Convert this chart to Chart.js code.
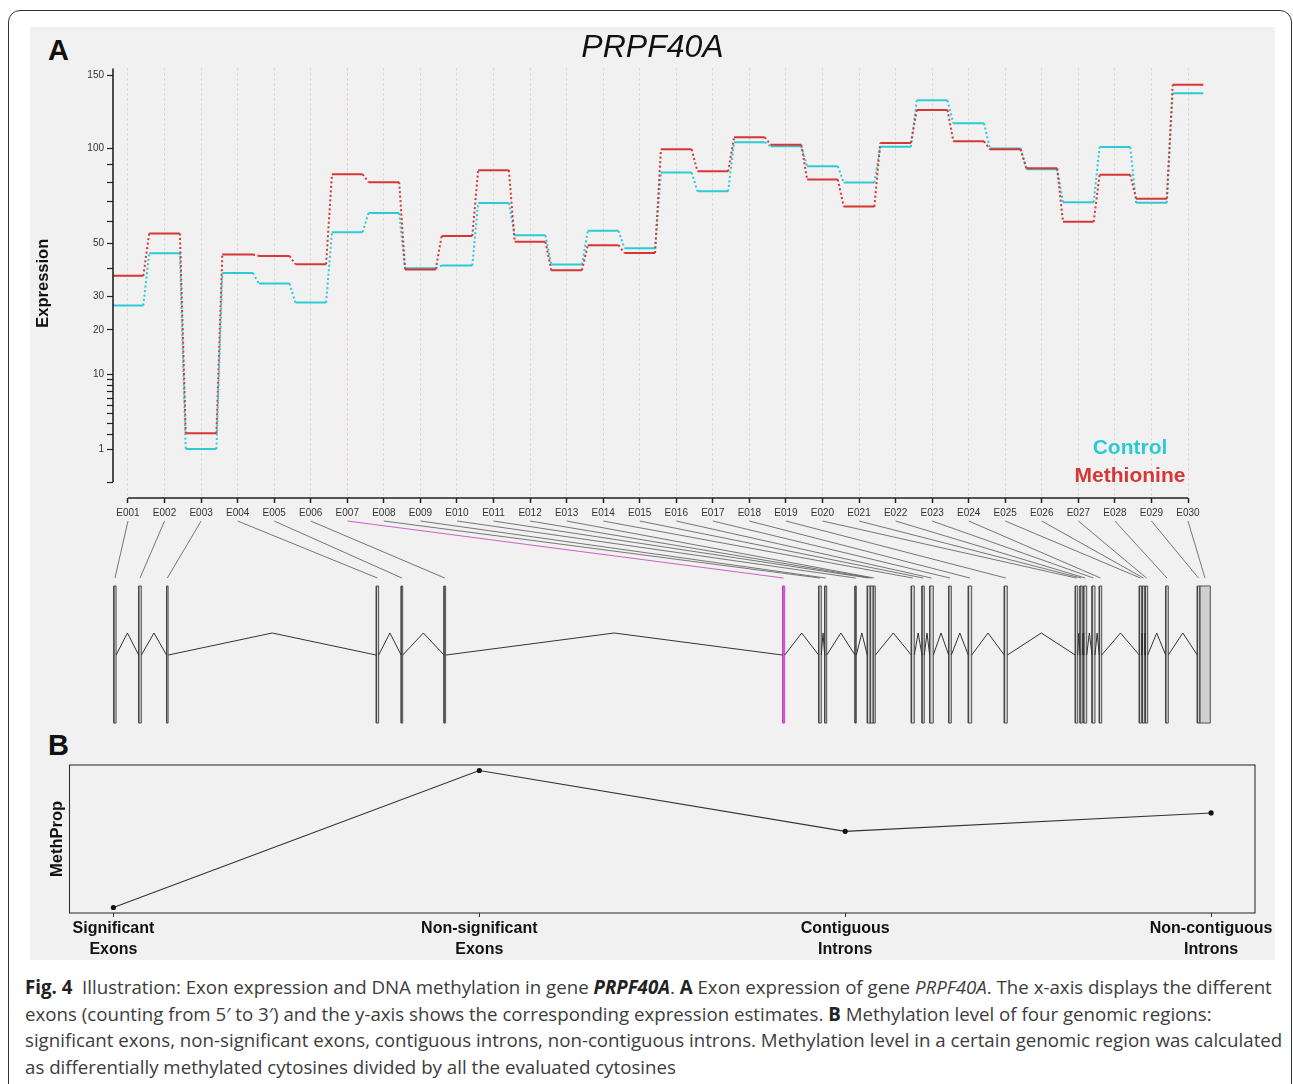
<!DOCTYPE html>
<html>
<head>
<meta charset="utf-8">
<script src="https://cdn.jsdelivr.net/npm/chart.js@4.4.1/dist/chart.umd.min.js"></script>
<style>
  html, body { margin: 0; padding: 0; background: #fff; }
  body { width: 1293px; height: 1084px; position: relative; overflow: hidden; font-family: 'Liberation Sans', Arial, sans-serif; }
  #frame { position: absolute; left: 8px; top: 10px; width: 1284px; height: 1100px; border: 1.5px solid #333; border-radius: 12px; box-sizing: border-box; }
  #panel { position: absolute; left: 30px; top: 27px; width: 1245px; height: 933px; background: #f1f1f1; }
  .tag { position: absolute; font: bold 29px/29px 'Liberation Sans', Arial, sans-serif; color: #111; }
  .box { position: absolute; }
  .cap { position: absolute; left: 25px; white-space: nowrap; font-family: 'Open Sans', sans-serif; font-size: 18.7px; letter-spacing: 0; color: #3c3c3c; line-height: 20px; }
  .cap b { color: #222; }
</style>
</head>
<body>
<div id="frame"></div>
<div id="panel"></div>
<div class="tag" style="left:48px; top:36px;">A</div>
<div class="tag" style="left:48px; top:731px;">B</div>
<div class="box" style="left:30px; top:27px;"><canvas id="exprChart" width="1245" height="500"></canvas></div>
<div class="box" style="left:30px; top:518px;"><canvas id="geneChart" width="1245" height="210"></canvas></div>
<div class="box" style="left:30px; top:755px;"><canvas id="methChart" width="1263" height="205"></canvas></div>

<div class="cap" style="top:977px;"><b>Fig. 4</b>&nbsp; Illustration: Exon expression and DNA methylation in gene <b><i>PRPF40A</i></b>. <b>A</b> Exon expression of gene <i>PRPF40A</i>. The x-axis displays the different</div>
<div class="cap" style="top:1004px;">exons (counting from 5′ to 3′) and the y-axis shows the corresponding expression estimates. <b>B</b> Methylation level of four genomic regions:</div>
<div class="cap" style="top:1030px;">significant exons, non-significant exons, contiguous introns, non-contiguous introns. Methylation level in a certain genomic region was calculated</div>
<div class="cap" style="top:1057px;">as differentially methylated cytosines divided by all the evaluated cytosines</div>

<script>
// exon bins of PRPF40A
const exonLabels = ['E001', 'E002', 'E003', 'E004', 'E005', 'E006', 'E007', 'E008', 'E009', 'E010',
    'E011', 'E012', 'E013', 'E014', 'E015', 'E016', 'E017', 'E018', 'E019', 'E020',
    'E021', 'E022', 'E023', 'E024', 'E025', 'E026', 'E027', 'E028', 'E029', 'E030'];

// expression estimates per exon bin
const controlExpr = [27.1, 46.0, 1.0, 38.2, 34.4, 28.0, 55.1, 64.1, 40.0, 41.1,
    69.1, 53.7, 41.5, 55.7, 48.1, 85.5, 75.2, 103.6, 101.1, 89.1,
    79.9, 100.8, 131.7, 115.9, 99.8, 87.4, 69.5, 100.6, 69.2, 136.8];
const methionineExpr = [37.2, 54.5, 2.1, 45.5, 44.9, 41.6, 84.5, 80.1, 39.6, 53.4,
    86.8, 50.8, 39.3, 49.4, 46.1, 99.2, 86.2, 106.7, 102.1, 81.6,
    67.3, 103.2, 124.9, 104.2, 99.2, 87.9, 59.9, 84.2, 71.3, 143.0];

const yTickValues = [1, 10, 20, 30, 50, 100, 150];
const yMinorTicks = [0.01, 2, 3, 4, 5, 6, 7, 8, 9, 40, 60, 70, 80, 90];

// exon bins along the gene (relative genomic position)
const exonStart = [0.0, 24.9, 52.8, 262.5, 287.4, 330.2, 668.9, 704.9, 710.9, 741.2,
    753.5, 756.2, 759.2, 797.5, 808.2, 815.9, 834.9, 854.5, 890.5, 961.5,
    966.2, 969.9, 978.2, 985.5, 1025.5, 1028.5, 1031.5, 1051.9, 1083.5, 1085.9];
const exonEnd = [2.3, 27.5, 54.3, 264.8, 288.9, 331.8, 670.9, 707.5, 712.9, 742.5,
    756.2, 759.2, 761.5, 800.5, 810.5, 819.5, 837.5, 857.9, 893.5, 963.9,
    968.5, 972.9, 981.2, 987.9, 1027.9, 1030.9, 1033.9, 1054.5, 1085.9, 1096.5];
const highlightExon = 'E007';

// panel B
const methRegions = [['Significant', 'Exons'], ['Non-significant', 'Exons'], ['Contiguous', 'Introns'], ['Non-contiguous', 'Introns']];
const methProp = [0.010, 0.060, 0.0378, 0.0445];

Chart.defaults.font.family = "'Liberation Sans', Arial, sans-serif";

const EXP = 0.48;
const tf = v => Math.pow(v, EXP);
const HALF = 0.42;
const CYAN = '#2ccbd4';
const RED = '#d63636';
const MAGENTA = '#c23bc2';
const IDX_MIN = 0.59, IDX_MAX = 32.38;

function stepPoints(values) {
    const pts = [];
    values.forEach((v, i) => {
        pts.push({ x: i + 1 - HALF, y: tf(v) });
        pts.push({ x: i + 1 + HALF, y: tf(v) });
    });
    return pts;
}

const yTicks = yMinorTicks.map(v => ({ v, major: false }))
    .concat(yTickValues.map(v => ({ v, major: true })))
    .sort((a, b) => a.v - b.v);

const dotted = ctx => ctx.p0DataIndex % 2 ? [2, 2.5] : undefined;

const rAxes = {
    id: 'rAxes',
    afterDraw(chart) {
        const { ctx, chartArea, scales: { x, y } } = chart;
        const xEnd = x.getPixelForValue(exonLabels.length);
        ctx.save();
        ctx.strokeStyle = '#222';
        ctx.lineWidth = 1.6;
        ctx.beginPath();
        ctx.moveTo(chartArea.left, chartArea.top);
        ctx.lineTo(chartArea.left, y.getPixelForValue(tf(yMinorTicks[0])));
        ctx.moveTo(x.getPixelForValue(1), chartArea.bottom);
        ctx.lineTo(xEnd, chartArea.bottom);
        ctx.stroke();

        // legend, centred text only
        ctx.font = "bold 21px 'Liberation Sans', Arial, sans-serif";
        ctx.textAlign = 'center';
        ctx.textBaseline = 'middle';
        chart.data.datasets.forEach((ds, i) => {
            ctx.fillStyle = ds.borderColor;
            ctx.fillText(ds.label, xEnd - 58, chartArea.bottom - 50 + i * 28);
        });
        ctx.restore();
    }
};

new Chart(document.getElementById('exprChart'), {
    type: 'line',
    data: {
        datasets: [
            { label: 'Control', data: stepPoints(controlExpr), borderColor: CYAN, borderWidth: 2, pointRadius: 0, order: 1, segment: { borderDash: dotted } },
            { label: 'Methionine', data: stepPoints(methionineExpr), borderColor: RED, borderWidth: 2, pointRadius: 0, order: 0, segment: { borderDash: dotted } }
        ]
    },
    options: {
        responsive: false,
        animation: false,
        layout: { padding: 0 },
        plugins: {
            legend: { display: false },
            tooltip: { enabled: false },
            title: {
                display: true,
                text: 'PRPF40A',
                color: '#111',
                font: { size: 32, style: 'italic', weight: 'normal' },
                padding: { top: 2, bottom: 1 }
            }
        },
        scales: {
            x: {
                type: 'linear',
                min: IDX_MIN,
                max: IDX_MAX,
                afterBuildTicks: s => { s.ticks = exonLabels.map((_, i) => ({ value: i + 1 })); },
                afterFit: s => { s.height = 29; },
                border: { display: false, dash: [2, 3] },
                grid: {
                    color: c => exonLabels[Math.round(c.tick.value) - 1] === highlightExon ? '#efb3e6' : '#d2d2d2',
                    lineWidth: 1,
                    tickLength: 5,
                    tickColor: '#222',
                    tickWidth: 1.5,
                    tickBorderDash: []
                },
                ticks: {
                    autoSkip: false,
                    maxRotation: 0,
                    padding: 4,
                    color: '#333',
                    font: { size: 10 },
                    callback: v => exonLabels[Math.round(v) - 1]
                }
            },
            y: {
                type: 'linear',
                min: -0.321,
                max: 11.269,
                afterBuildTicks: s => { s.ticks = yTicks.map(t => ({ value: tf(t.v) })); },
                afterFit: s => { s.width = 83; },
                border: { display: false },
                grid: { drawOnChartArea: false, tickLength: 6, color: '#222', tickWidth: 1.2 },
                ticks: {
                    autoSkip: false,
                    padding: 3,
                    color: '#333',
                    font: { size: 10 },
                    callback: (v, i) => yTicks[i].major ? String(yTicks[i].v) : ''
                },
                title: {
                    display: true,
                    text: 'Expression',
                    color: '#111',
                    font: { size: 16.5, weight: 'bold' },
                    padding: { top: 4, bottom: 0 }
                }
            }
        }
    },
    plugins: [rAxes]
});

// gene model: exon boxes, intron hats and the lines to the bin labels
const EXON_TOP = 1, INTRON_BASE = 0.496, INTRON_PEAK = 0.657, LINK_TOP = 1.474, LINK_BOTTOM = 1.058;

const intronPts = [];
for (let i = 0; i < exonStart.length - 1; i++) {
    const a = exonEnd[i], b = exonStart[i + 1];
    if (b - a < 0.3) continue;
    intronPts.push({ x: a, y: INTRON_BASE }, { x: (a + b) / 2, y: INTRON_PEAK }, { x: b, y: INTRON_BASE }, { x: b, y: null });
}

const exonSets = exonStart.map((s, i) => {
    const e = exonEnd[i];
    const hi = exonLabels[i] === highlightExon;
    return {
        data: [{ x: s, y: 0 }, { x: e, y: 0 }, { x: e, y: EXON_TOP }, { x: s, y: EXON_TOP }, { x: s, y: 0 }],
        xAxisID: 'gx', yAxisID: 'gy',
        borderColor: hi ? MAGENTA : '#444',
        backgroundColor: hi ? '#d77ad7' : '#cfcfcf',
        borderWidth: 0.9,
        pointRadius: 0,
        fill: 'shape'
    };
});

const links = {
    id: 'links',
    afterDatasetsDraw(chart) {
        const { ctx, scales: { gx, ix, gy } } = chart;
        ctx.save();
        ctx.lineWidth = 0.8;
        exonLabels.forEach((lab, i) => {
            ctx.strokeStyle = lab === highlightExon ? MAGENTA : '#555';
            ctx.beginPath();
            ctx.moveTo(ix.getPixelForValue(i + 1), gy.getPixelForValue(LINK_TOP));
            ctx.lineTo(gx.getPixelForValue((exonStart[i] + exonEnd[i]) / 2), gy.getPixelForValue(LINK_BOTTOM));
            ctx.stroke();
        });
        ctx.restore();
    }
};

new Chart(document.getElementById('geneChart'), {
    type: 'line',
    data: {
        datasets: [
            { data: intronPts, xAxisID: 'gx', yAxisID: 'gy', borderColor: '#333', borderWidth: 1, pointRadius: 0, spanGaps: false }
        ].concat(exonSets)
    },
    options: {
        responsive: false,
        animation: false,
        layout: { padding: { left: 83, right: 0, top: 0, bottom: 0 } },
        plugins: { legend: { display: false }, tooltip: { enabled: false } },
        scales: {
            gx: { type: 'linear', axis: 'x', min: -0.8, max: 1161.2, display: false },
            ix: { type: 'linear', axis: 'x', min: IDX_MIN, max: IDX_MAX, display: false },
            gy: { type: 'linear', axis: 'y', min: -0.036, max: 1.496, display: false }
        }
    },
    plugins: [links]
});

const frameBox = {
    id: 'frameBox',
    afterDraw(chart) {
        const { ctx, chartArea: a } = chart;
        ctx.save();
        ctx.strokeStyle = '#333';
        ctx.lineWidth = 1.1;
        ctx.strokeRect(a.left, a.top, a.right - a.left, a.bottom - a.top);
        ctx.restore();
    }
};

new Chart(document.getElementById('methChart'), {
    type: 'line',
    data: {
        datasets: [{
            data: methProp.map((v, i) => ({ x: i + 1, y: v })),
            borderColor: '#333',
            borderWidth: 1.1,
            pointRadius: 2.6,
            pointBackgroundColor: '#111',
            pointBorderWidth: 0
        }]
    },
    options: {
        responsive: false,
        animation: false,
        layout: { padding: { left: 0, right: 38, top: 10, bottom: 0 } },
        plugins: { legend: { display: false }, tooltip: { enabled: false } },
        scales: {
            x: {
                type: 'linear',
                min: 0.88,
                max: 4.12,
                afterBuildTicks: s => { s.ticks = methRegions.map((_, i) => ({ value: i + 1 })); },
                afterFit: s => { s.height = 47; },
                border: { display: false },
                grid: { drawOnChartArea: false, tickLength: 4, color: '#333' },
                ticks: {
                    autoSkip: false,
                    maxRotation: 0,
                    padding: 1,
                    color: '#111',
                    font: { size: 16, weight: 'bold', lineHeight: 1.3 },
                    callback: v => methRegions[Math.round(v) - 1]
                }
            },
            y: {
                min: 0.008,
                max: 0.062,
                afterFit: s => { s.width = 39.5; },
                border: { display: false },
                grid: { display: false },
                ticks: { display: false },
                title: {
                    display: true,
                    text: 'MethProp',
                    color: '#111',
                    font: { size: 16.5, weight: 'bold' },
                    padding: { top: 18, bottom: 0 }
                }
            }
        }
    },
    plugins: [frameBox]
});
</script>
</body>
</html>
